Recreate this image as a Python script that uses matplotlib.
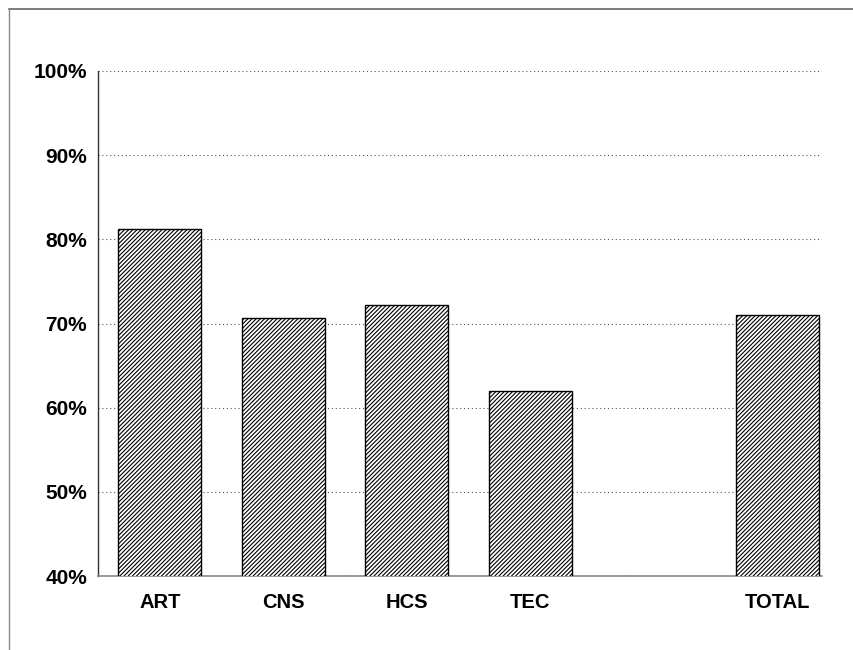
import numpy as np
import matplotlib.pyplot as plt
from matplotlib.lines import Line2D

# data
categories = ['ART', 'CNS', 'HCS', 'TEC', '', 'TOTAL']
values = [81.2, 70.6, 72.2, 62.0, np.nan, 71.0]
yticks = [40, 50, 60, 70, 80, 90, 100]

plt.rcParams['font.family'] = ['Liberation Sans', 'DejaVu Sans']
plt.rcParams['hatch.linewidth'] = 0.8

fig = plt.figure(figsize=(8.54, 6.5), dpi=100)
ax = fig.add_axes([98/854, 1 - 576/650, (822 - 98)/854, (576 - 71)/650])

x = np.arange(len(categories))
v = np.array(values)
ok = ~np.isnan(v)
ax.bar(x[ok], v[ok], width=0.67, bottom=0, color='white', edgecolor='black',
       hatch='////////', linewidth=1.0, zorder=3)

ax.set_ylim(40, 100)
ax.set_xlim(-0.5, 5.36)
ax.set_yticks(yticks)
ax.set_yticklabels([f'{t}%' for t in yticks], fontsize=15, fontweight='bold')
ax.set_xticks(x)
ax.set_xticklabels(categories, fontsize=14.5, fontweight='bold')
ax.tick_params(axis='x', length=0, pad=12)
ax.tick_params(axis='y', length=0, pad=8)

ax.grid(axis='y', linestyle=(0, (1, 2.5)), color='#555555', linewidth=0.8, zorder=0)
for s in ['top', 'right']:
    ax.spines[s].set_visible(False)
ax.spines['left'].set_color('#333333')
ax.spines['bottom'].set_color('#888888')
ax.spines['left'].set_linewidth(1.0)
ax.spines['bottom'].set_linewidth(1.2)

# outer frame (top and left edges)
fig.add_artist(Line2D([9/854, 1], [1 - 9/650, 1 - 9/650], color='#666666', linewidth=1.2))
fig.add_artist(Line2D([9/854, 9/854], [0, 1 - 9/650], color='#888888', linewidth=1.0))

fig.savefig('out.png', dpi=100, facecolor='white')
